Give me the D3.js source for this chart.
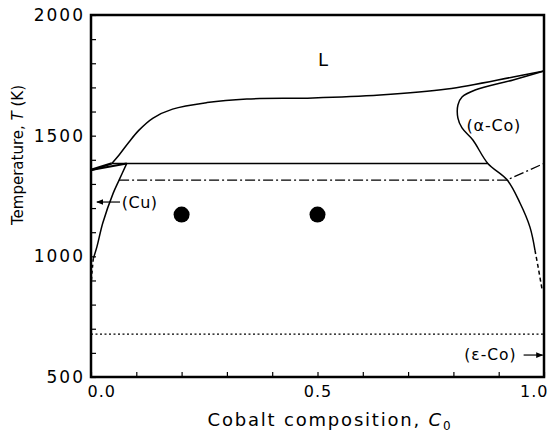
<!DOCTYPE html>
<html>
<head>
<meta charset="utf-8">
<script src="https://cdn.jsdelivr.net/npm/d3@7"></script>
<style>
  html, body { margin: 0; padding: 0; background: #fff; }
  svg text { font-family: "DejaVu Sans", sans-serif; fill: #000; }
</style>
</head>
<body>
<svg id="chart" width="549" height="433"></svg>
<script>
// ---------- data ----------
const xTicks = [0, 0.1, 0.2, 0.3, 0.4, 0.5, 0.6, 0.7, 0.8, 0.9, 1.0];
const xTickLabels = ["0.0", "0.5", "1.0"];
const yTicks = d3.range(500, 2001, 100);
const yTickLabels = [500, 1000, 1500, 2000];

// liquidus (L boundary), Cu side up to Co melting point
const liquidusC = [0.046, 0.062, 0.084, 0.106, 0.137, 0.18, 0.256, 0.344, 0.49, 0.638, 0.786, 0.932, 1.0];
const liquidusT = [1385, 1420, 1474, 1523, 1573, 1610, 1637, 1652, 1656, 1668, 1693, 1743, 1768];
// Cu-rich liquidus/solidus near pure Cu (thick)
const cuLiqC = [0, 0.046];
const cuLiqT = [1358, 1385];
const cuSolC = [0, 0.079];
const cuSolT = [1358, 1385];
// (Cu) solvus
const cuSolvusC = [0.079, 0.062, 0.049, 0.026, 0.013, 0.005];
const cuSolvusT = [1385, 1316, 1262, 1138, 1039, 990];
const cuSolvusDashC = [0.005, 0.002, 0.0];
const cuSolvusDashT = [990, 930, 870];
// (alpha-Co) solidus + solvus
const coBoundC = [1.0, 0.932, 0.848, 0.819, 0.81, 0.81, 0.819, 0.843, 0.876, 0.918, 0.947, 0.969, 0.98];
const coBoundT = [1768, 1731, 1689, 1660, 1627, 1573, 1532, 1482, 1385, 1318, 1221, 1121, 1026];
const coBoundDashC = [0.98, 0.987, 0.996];
const coBoundDashT = [1026, 956, 860];
// peritectic isotherm
const peritecticC = [0.046, 0.876];
const peritecticT = [1385, 1385];
// magnetic (Curie) line, dash-dot
const curieC = [0.062, 0.918, 1.0];
const curieT = [1316, 1316, 1385];
// epsilon/alpha Co transformation, dotted
const epsC = [0, 1.0];
const epsT = [678, 678];
// alloy compositions annealed
const alloyC = [0.2, 0.5];
const alloyT = [1173, 1173];

// ---------- layout ----------
const svg = d3.select("#chart");
const x = d3.scaleLinear().domain([0, 1]).range([91, 544]);
const y = d3.scaleLinear().domain([500, 2000]).range([377, 15]);

const pts = (cs, ts) => cs.map((c, i) => [x(c), y(ts[i])]);
const line = d3.line();
const curved = d3.line().curve(d3.curveCatmullRom.alpha(0.5));

function path(cs, ts, gen, w, dash) {
  const p = svg.append("path")
    .attr("d", gen(pts(cs, ts)))
    .attr("fill", "none")
    .attr("stroke", "#000")
    .attr("stroke-width", w);
  if (dash) p.attr("stroke-dasharray", dash);
  return p;
}

// curves
path(liquidusC, liquidusT, curved, 1.5);
path(cuLiqC, cuLiqT, line, 2.5);
path(cuSolC, cuSolT, line, 2);
path(cuSolvusC, cuSolvusT, curved, 1.5);
path(cuSolvusDashC, cuSolvusDashT, line, 1.5, "3,3");
path(coBoundC, coBoundT, curved, 1.5);
path(coBoundDashC, coBoundDashT, line, 1.5, "4,3");
path(peritecticC, peritecticT, line, 1.5);
path(curieC, curieT, line, 1.3, "10,3,2,3");
path(epsC, epsT, line, 1.2, "2,2.5");

// alloy points
svg.selectAll("circle.alloy").data(alloyC).join("circle")
  .attr("class", "alloy")
  .attr("cx", (d) => x(d))
  .attr("cy", (d, i) => y(alloyT[i]))
  .attr("r", 8)
  .attr("fill", "#000");

// ---------- axes ----------
const fmtX = (d) => { const s = d3.format(".1f")(d); return xTickLabels.includes(s) ? s : ""; };
const xAxis = svg.append("g").attr("transform", `translate(0,${y(500)})`)
  .call(d3.axisBottom(x).tickValues(xTicks).tickFormat(fmtX).tickSize(-5).tickPadding(9));
xAxis.select(".domain").remove();
xAxis.selectAll("line").attr("stroke-width", 1.2);
xAxis.selectAll("text").attr("font-size", 16).attr("letter-spacing", 1)
  .attr("font-family", "DejaVu Sans")
  .attr("text-anchor", (d) => d === 0 ? "start" : d === 1 ? "end" : "middle")
  .attr("dx", (d) => d === 0 ? -4 : d === 1 ? 4 : 0);

const fmtY = (d) => yTickLabels.includes(d) ? String(d) : "";
const yAxis = svg.append("g").attr("transform", `translate(${x(0)},0)`)
  .call(d3.axisLeft(y).tickValues(yTicks).tickFormat(fmtY).tickSize(-5).tickPadding(6));
yAxis.select(".domain").remove();
yAxis.selectAll("line").attr("stroke-width", 1.2);
yAxis.selectAll("text").attr("font-size", 17).attr("letter-spacing", 2)
  .attr("font-family", "DejaVu Sans");

// frame
svg.append("rect")
  .attr("x", x(0)).attr("y", y(2000))
  .attr("width", x(1) - x(0)).attr("height", y(500) - y(2000))
  .attr("fill", "none").attr("stroke", "#000").attr("stroke-width", 2.5);

// ---------- labels ----------
svg.append("text").attr("x", x(0.512)).attr("y", y(1789))
  .attr("font-size", 18).attr("text-anchor", "middle").text("L");

svg.append("text").attr("x", x(0.829)).attr("y", y(1519))
  .attr("font-size", 16).attr("letter-spacing", 0.8).text("(α-Co)");

svg.append("text").attr("x", x(0.068)).attr("y", y(1225)).attr("dy", "0.35em")
  .attr("font-size", 16).attr("letter-spacing", 0.5).text("(Cu)");

svg.append("text").attr("x", x(0.824)).attr("y", y(591)).attr("dy", "0.35em")
  .attr("font-size", 15.5).attr("letter-spacing", 1).text("(ε-Co)");

// arrows
const defs = svg.append("defs");
defs.append("marker").attr("id", "ah").attr("viewBox", "0 0 10 10")
  .attr("refX", 9).attr("refY", 5).attr("markerWidth", 6).attr("markerHeight", 6)
  .attr("orient", "auto")
  .append("path").attr("d", "M0,1 L10,5 L0,9 Z").attr("fill", "#000");

svg.append("line").attr("x1", x(0.064)).attr("x2", x(0.013))
  .attr("y1", y(1225)).attr("y2", y(1225))
  .attr("stroke", "#000").attr("stroke-width", 1.2).attr("marker-end", "url(#ah)");
svg.append("line").attr("x1", x(0.955)).attr("x2", x(0.997))
  .attr("y1", y(591)).attr("y2", y(591))
  .attr("stroke", "#000").attr("stroke-width", 1.2).attr("marker-end", "url(#ah)");

// axis titles
const xt = svg.append("text").attr("x", 330).attr("y", 426)
  .attr("text-anchor", "middle").attr("font-size", 18).attr("letter-spacing", 1.8);
xt.append("tspan").text("Cobalt composition, ");
xt.append("tspan").attr("font-style", "italic").text("C");
xt.append("tspan").attr("font-size", 12).attr("dy", 4).text("0");

const yt = svg.append("text")
  .attr("transform", `translate(23,${(88 + 222) / 2}) rotate(-90)`)
  .attr("text-anchor", "middle").attr("font-size", 15);
yt.append("tspan").text("Temperature, ");
yt.append("tspan").attr("font-style", "italic").text("T");
yt.append("tspan").text(" (K)");
</script>
</body>
</html>
